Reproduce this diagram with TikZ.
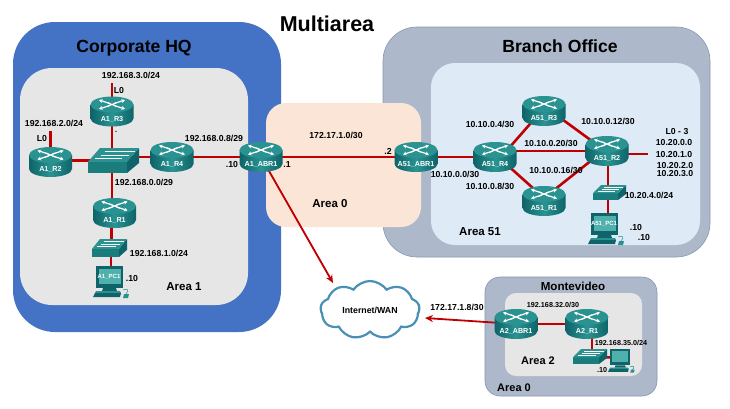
\documentclass[tikz,border=0pt]{standalone}
\usepackage{fontspec}
\setmainfont{Liberation Sans}
\usetikzlibrary{arrows.meta,shapes.symbols}
\pgfdeclarelayer{bg}
\pgfdeclarelayer{conn}
\pgfsetlayers{bg,conn,main}
\definecolor{linkred}{HTML}{C00000}
\definecolor{hqblue}{HTML}{4472C4}
\definecolor{areagray}{HTML}{E7E6E6}
\definecolor{peach}{HTML}{FBE5D6}
\definecolor{slate}{HTML}{ADB9CA}
\definecolor{slateedge}{HTML}{8497B0}
\definecolor{paleblue}{HTML}{DEEAF6}
\definecolor{tealdark}{HTML}{0E6468}
\definecolor{tealmid}{HTML}{2A9391}
\definecolor{teallight}{HTML}{4FB0AC}
\definecolor{swfront}{HTML}{1B7C7C}
\definecolor{cloudblue}{HTML}{4A8FB5}
\tikzset{
  hub/.style={inner sep=0pt,minimum width=43pt,minimum height=30pt},
  rtext/.style={inner sep=0pt,text=white,font=\fontsize{7.2}{8}\selectfont\bfseries},
  lbl/.style={inner sep=0pt,text=black,font=\fontsize{8.7}{10}\selectfont\bfseries},
  sml/.style={inner sep=0pt,text=black,font=\fontsize{7.2}{8}\selectfont\bfseries},
  arealbl/.style={inner sep=0pt,text=black,font=\fontsize{11.5}{13}\selectfont\bfseries},
  headlbl/.style={inner sep=0pt,text=black,font=\fontsize{17.6}{20}\selectfont\bfseries},
  link/.style={draw=linkred,line width=2.6pt},
  wanlink/.style={draw=linkred,line width=1.8pt,-{Stealth[length=8pt,width=7pt]}},
  xarrow/.style={draw=white,line width=1.2pt,-{Stealth[length=3.6pt,width=3.8pt]}}
}
\newcommand\rtr[4]{%
\begin{scope}[shift={(#2,#3)}]
\shade[left color=tealdark,right color=tealdark,middle color=tealmid]
  (-21.5,-7) -- (-21.5,7) .. controls (-21.5,11.4) and (-11.9,15) .. (0,15)
  .. controls (11.9,15) and (21.5,11.4) .. (21.5,7) -- (21.5,-7) -- cycle;
\fill[tealmid] (0,-7) ellipse [x radius=21.5,y radius=8];
\draw[xarrow] (-2,-8) -- (-13,-11.5);
\draw[xarrow] (-2,-6) -- (-13,-2.5);
\draw[xarrow] (2,-8) -- (13,-11.5);
\draw[xarrow] (2,-6) -- (13,-2.5);
\draw[white,line width=1.1pt] (-5,-9) -- (5,-5) (-5,-5) -- (5,-9);
\node[hub] (#1) at (0,0) {};
\node[rtext] (#1-t) at (0,7.5) {#4};
\end{scope}}
% name, left, top, right, bottom, slant
\newcommand\swt[6]{%
\path[fill=swfront] (#2,{#5-(#5-#3)*0.45}) -- ({#4-#6},{#5-(#5-#3)*0.45}) -- ({#4-#6},#5) -- (#2,#5) -- cycle;
\path[fill=tealdark] ({#4-#6},{#5-(#5-#3)*0.45}) -- (#4,#3) -- (#4,{#5-(#5-#3)*0.4}) -- ({#4-#6},#5) -- cycle;
\path[fill=tealmid] (#2,{#5-(#5-#3)*0.45}) -- ({#2+#6},#3) -- (#4,#3) -- ({#4-#6},{#5-(#5-#3)*0.45}) -- cycle;
\draw[white,line width=0.5pt] ({#2+#6+0.10*(#4-#2)},{#3+(#5-#3)*0.14}) -- ({#4-0.08*(#4-#2)},{#3+(#5-#3)*0.14})
  ({#2+#6+0.02*(#4-#2)},{#3+(#5-#3)*0.29}) -- ({#4-#6+0.03*(#4-#2)},{#3+(#5-#3)*0.29})
  ({#2+0.6*#6},{#3+(#5-#3)*0.42}) -- ({#4-#6-0.1*(#4-#2)},{#3+(#5-#3)*0.42});
\path (#2,#3) -- coordinate (#1-c) (#4,#5);
\node[inner sep=0pt,minimum width=2pt,minimum height=2pt] (#1) at (#1-c) {};}
% name, x(left), y(top), scale, label
\newcommand\pcs[5]{%
\begin{scope}[shift={(#2,#3)},scale=#4]
\fill[tealdark] (3,0) -- (30,0) -- (30,22) -- (3,22) -- cycle;
\fill[teallight] (5.5,3) -- (27.5,3) -- (27.5,18) -- (5.5,18) -- cycle;
\fill[tealdark] (10,22) -- (23,22) -- (24,25) -- (9,25) -- cycle;
\fill[tealmid] (3,25) -- (27,25) -- (28,27) -- (2,27) -- cycle;
\fill[tealdark] (0,31) -- (2,27) -- (28,27) -- (27,31) -- cycle;
\fill[tealmid] (31,28) -- (36,28) -- (35,32) -- (30,32) -- cycle;
\draw[tealmid,line width=0.5pt] (30,24) .. controls (34,22) and (37,24) .. (33,28);
\node[hub,minimum width=28pt,minimum height=20pt] (#1) at (16,12) {};
\node[inner sep=0pt,text=white,font=\fontsize{6}{7}\selectfont\bfseries] (#1-t) at (16,10.5) {#5};
\end{scope}}
\begin{document}
\begin{tikzpicture}[x=1pt,y=-1pt]
\useasboundingbox (0,0) rectangle (730,408);
\begin{pgfonlayer}{bg}
\fill[white] (0,0) rectangle (730,408);
\fill[hqblue,rounded corners=42pt] (13,22) rectangle (281,332);
\fill[areagray,rounded corners=32pt] (20,68) rectangle (248,305);
\filldraw[fill=slate,draw=slateedge,line width=0.6pt,rounded corners=34pt] (383,27) rectangle (710,257);
\fill[paleblue,rounded corners=24pt] (431,63) rectangle (700,245);
\fill[peach,rounded corners=20pt] (266,103) rectangle (421,227);
\filldraw[fill=slate,draw=slateedge,line width=0.6pt,rounded corners=15pt] (485,277) rectangle (657,396);
\fill[areagray,rounded corners=11pt] (505,293) rectangle (642,376);
\end{pgfonlayer}

% devices
\rtr{a1r3}{112}{111.5}{A1\_R3}
\rtr{a1r2}{50.5}{162}{A1\_R2}
\rtr{a1r4}{172}{157}{A1\_R4}
\rtr{a1abr}{261}{157}{A1\_ABR1}
\rtr{a1r1}{114.5}{213}{A1\_R1}
\swt{a1sw}{88}{148}{139}{173}{12}
\swt{a1swb}{92}{239}{127}{257}{8}
\pcs{a1pc}{93}{266}{1}{A1\_PC1}

\rtr{a51abr}{416}{157}{A51\_ABR1}
\rtr{a51r4}{495}{157}{A51\_R4}
\rtr{a51r3}{544}{111}{A51\_R3}
\rtr{a51r1}{544}{201}{A51\_R1}
\rtr{a51r2}{607}{151}{A51\_R2}
\swt{a51sw}{593}{185}{626}{200}{8}
\pcs{a51pc}{588}{213}{1}{A51\_PC1}

\rtr{a2abr}{516}{324}{A2\_ABR1}
\rtr{a2r1}{587}{324}{A2\_R1}
\swt{a2sw}{573}{349}{607}{364}{8}
\pcs{a2pc}{608}{349}{0.74}{}

\node[cloud,cloud puffs=9,cloud puff arc=110,aspect=1.75,draw=cloudblue,line width=2.2pt,fill=white,
      minimum width=99pt,minimum height=58pt,inner sep=0pt,
      font=\fontsize{8.8}{10}\selectfont\bfseries] (wan) at (370,310) {Internet/WAN};

% free ends
\coordinate (a1r3stub) at (112,83);
\coordinate (a1r2stub) at (50.5,131);
\coordinate (a51r2stub) at (648,154);
\coordinate (wanhit) at (333,283);
\coordinate (wanback) at (425,318);

\begin{pgfonlayer}{conn}
\draw[link] (a1r3.center) -- (a1r3stub);
\draw[link] (a1r2.center) -- (a1r2stub);
\draw[link] (a1r3.center) -- (a1r3.center |- a1sw.center);
\draw[link] (a1r2.center |- a1sw.center) -- (a1sw.center);
\draw[link] (a1r4.center) -- (a1r4.center -| a1sw.center);
\draw[link] (a1r3.center |- a1sw.center) -- (a1r3.center |- a1r1.center);
\draw[link] ([xshift=-3pt]a1r1.center) -- ([xshift=-3pt]a1r1.center |- a1swb.center);
\draw[link] ([xshift=1.5pt]a1swb.center) -- ([xshift=1.5pt]a1swb.center |- a1pc.center);
\draw[link] (a1r4.center) -- (a1abr.center);
\draw[link] (a1abr.center) -- (a51abr.center);
\draw[link] (a51abr.center) -- (a51r4.center);
\draw[link] ([yshift=-7pt]a51r4.center) -- ([yshift=3pt]a51r3.center);
\draw[link] ([yshift=3pt]a51r4.center) -- ([yshift=3pt]a51r1.center);
\draw[link] (a51r4.center |- a51r2.center) -- (a51r2.center);
\draw[link] ([yshift=5pt]a51r3.center) -- ([yshift=-1pt]a51r2.center);
\draw[link] ([yshift=3pt]a51r1.center) -- ([yshift=3pt]a51r2.center);
\draw[link] (a51r2.center |- a51r2stub) -- (a51r2stub);
\draw[link] ([xshift=1pt]a51r2.center) -- ([xshift=1pt]a51r2.center |- a51pc.center);
\draw[link] (a2abr.center) -- (a2r1.center);
\draw[link] ([xshift=5pt]a2r1.center) -- ([xshift=5pt]a2r1.center |- a2sw.center);
\draw[link] (a2sw.center) -- (a2pc.center);
\draw[wanlink] (a1abr.center) -- (wanhit);
\draw[wanlink] (a2abr.center) -- (wanback);
\end{pgfonlayer}

% headings
\node[inner sep=0pt,font=\fontsize{21.5}{24}\selectfont\bfseries] (title) at (327,24) {Multiarea};
\node[headlbl] (hq) at (134,48) {Corporate HQ};
\node[headlbl] (branch) at (560,46) {Branch Office};
\node[inner sep=0pt,font=\fontsize{11.6}{13}\selectfont\bfseries] (monte) at (573,286) {Montevideo};

% area labels
\node[arealbl] (area1) at (184,287) {Area 1};
\node[arealbl] (area0a) at (330,204) {Area 0};
\node[arealbl] (area51) at (480,232) {Area 51};
\node[arealbl,font=\fontsize{11}{12}\selectfont\bfseries] (area2) at (538,361) {Area 2};
\node[arealbl,font=\fontsize{11}{12}\selectfont\bfseries] (area0b) at (514,388) {Area 0};

% address labels
\node[lbl] (t1) at (131,75) {192.168.3.0/24};
\node[lbl] (t2) at (119,90) {L0};
\node[lbl] (t3) at (54,123) {192.168.2.0/24};
\node[lbl] (t4) at (42,138) {L0};
\node[lbl] (t5) at (214,138) {192.168.0.8/29};
\node[lbl] (t6) at (232,164) {.10};
\node[lbl] (t7) at (287,164.5) {.1};
\node[lbl] (t8) at (144,182) {192.168.0.0/29};
\node[lbl] (t9) at (159,253) {192.168.1.0/24};
\node[lbl] (t10) at (132,278) {.10};
\node[lbl] (t11) at (336,135) {172.17.1.0/30};
\node[lbl] (t12) at (388,151) {.2};
\node[lbl] (t13) at (455,174) {10.10.0.0/30};
\node[lbl] (t14) at (490,124) {10.10.0.4/30};
\node[lbl] (t15) at (490,186) {10.10.0.8/30};
\node[lbl] (t16) at (551,143) {10.10.0.20/30};
\node[lbl] (t17) at (556,170) {10.10.0.16/30};
\node[lbl] (t18) at (608,121) {10.10.0.12/30};
\node[lbl] (t19) at (677,132) {L0 - 3};
\node[lbl] (t20) at (674,142) {10.20.0.0};
\node[lbl] (t21) at (674,154) {10.20.1.0};
\node[lbl] (t22) at (675,165) {10.20.2.0};
\node[lbl] (t23) at (675,174) {10.20.3.0};
\node[lbl] (t24) at (649,195) {10.20.4.0/24};
\node[lbl] (t25) at (636,227) {.10};
\node[lbl] (t26) at (644,237) {.10};
\node[lbl] (t27) at (457,307) {172.17.1.8/30};
\node[sml] (t28) at (553,305) {192.168.32.0/30};
\node[sml] (t29) at (621,343) {192.168.35.0/24};
\node[sml] (t30) at (602,370) {.10};
\node[sml] (t31) at (116,132) {.};
\end{tikzpicture}
\end{document}
